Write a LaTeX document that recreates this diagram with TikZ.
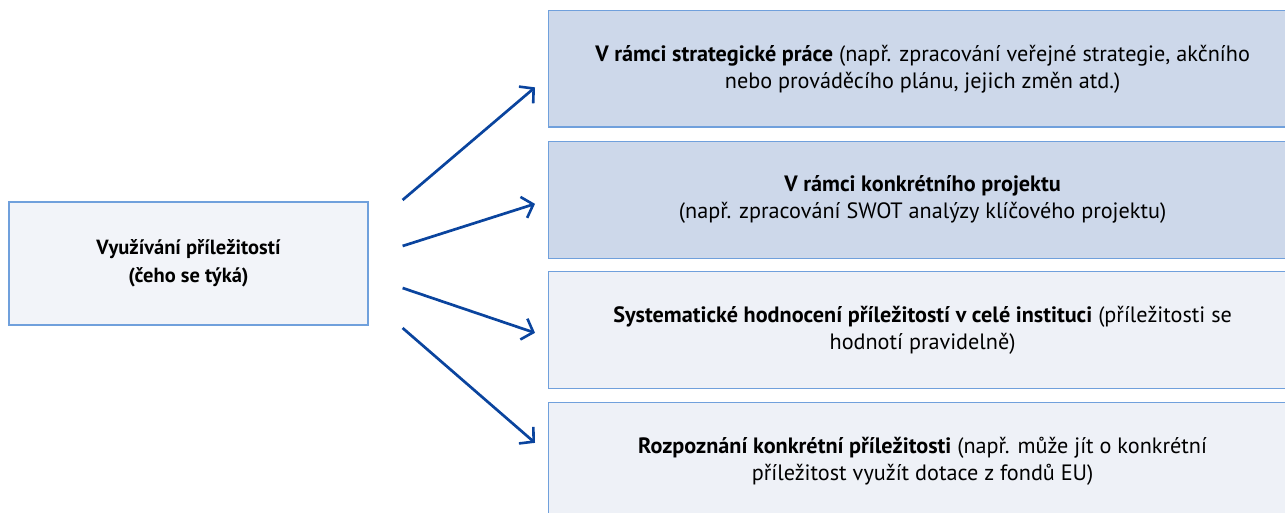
\documentclass[tikz,border=0pt]{standalone}
\usepackage{fontspec}
\setmainfont{PT Sans}
\usepackage{tikz}
\usetikzlibrary{arrows.meta, calc}
\definecolor{frame}{RGB}{112,160,220}
\definecolor{darkfill}{RGB}{205,216,234}
\definecolor{lightfill}{RGB}{238,241,247}
\definecolor{leftfill}{RGB}{242,244,249}
\definecolor{arrowblue}{RGB}{10,68,158}
\tikzset{
    sourcebox/.style={draw=frame, line width=1.2pt, fill=leftfill, minimum width=359pt, minimum height=123pt, align=center, font=\fontsize{20.5}{28}\selectfont\bfseries},
    targetbox/.style={draw=frame, line width=1.2pt, anchor=north west, minimum width=748pt, minimum height=116.5pt, align=center, font=\fontsize{22.2}{27}\selectfont},
    link/.style={-{Straight Barb[length=10pt, width=22pt, line width=2.6pt]}, line width=2.7pt, arrowblue}
}

\begin{document}
\begin{tikzpicture}[x=1pt, y=-1pt]
    \clip (0,0) rectangle (1285,513);
    \node[sourcebox] (use) at (188.5,263.5) {Využívání příležitostí\\(čeho se týká)};

    \node[targetbox, fill=darkfill] (strat) at (548,10) {\textbf{V rámci strategické práce} (např. zpracování veřejné strategie, akčního\\nebo prováděcího plánu, jejich změn atd.)};
    \node[targetbox, fill=darkfill] (proj) at (548,141) {\textbf{V rámci konkrétního projektu}\\(např. zpracování SWOT analýzy klíčového projektu)};
    \node[targetbox, fill=lightfill] (syst) at (548,271) {\textbf{Systematické hodnocení příležitostí v celé instituci} (příležitosti se\\hodnotí pravidelně)};
    \node[targetbox, fill=lightfill] (recog) at (548,402) {\textbf{Rozpoznání konkrétní příležitosti} (např. může jít o konkrétní\\příležitost využít dotace z fondů EU)};

    % spojnice z levého boxu
    \draw[link] ([xshift=34pt, yshift=63.5pt]use.east) -- ([xshift=-13pt, yshift=-18.5pt]strat.west);
    \draw[link] ([xshift=34pt, yshift=17.5pt]use.east) -- ([xshift=-13pt, yshift=-4pt]proj.west);
    \draw[link] ([xshift=34pt, yshift=-24.5pt]use.east) -- ([xshift=-13pt, yshift=-3pt]syst.west);
    \draw[link] ([xshift=34pt, yshift=-64.5pt]use.east) -- ([xshift=-13pt, yshift=18pt]recog.west);
\end{tikzpicture}
\end{document}
